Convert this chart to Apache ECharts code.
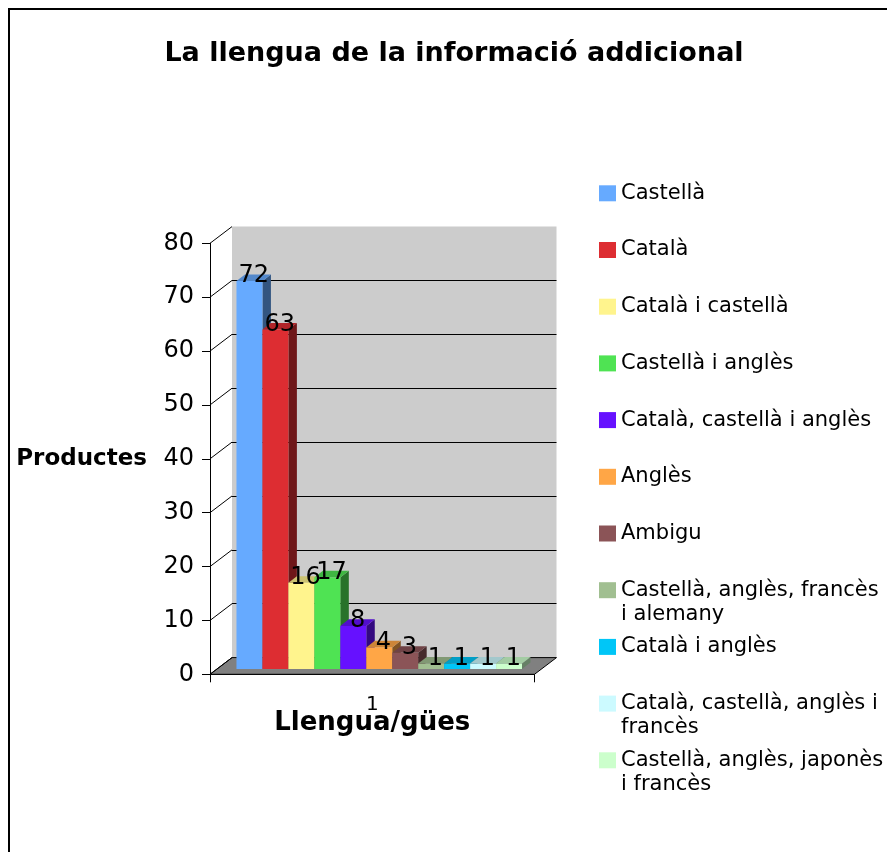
<!DOCTYPE html>
<html>
<head>
<meta charset="utf-8">
<script src="https://cdn.jsdelivr.net/npm/echarts@6/dist/echarts.min.js"></script>
<style>html,body{margin:0;padding:0;background:#fff;}#c{width:887px;height:852px;}</style>
</head>
<body>
<div id="c"></div>
<script>
// ---- data ----
const titleText = 'La llengua de la informació addicional';
const xAxisName = 'Llengua/gües';
const yAxisName = 'Productes';
const xLabels = ['1'];
const categories = [
  'Castellà', 'Català', 'Català i castellà', 'Castellà i anglès',
  'Català, castellà i anglès', 'Anglès', 'Ambigu',
  'Castellà, anglès, francès i alemany', 'Català i anglès',
  'Català, castellà, anglès i francès', 'Castellà, anglès, japonès i francès'
];
const values = [72, 63, 16, 17, 8, 4, 3, 1, 1, 1, 1];
const colors = ['#66AAFF', '#DD2D32', '#FFF48D', '#4FE353', '#6611FF', '#FFA646',
                '#8B5457', '#A1BF91', '#00C6F7', '#CCFAFF', '#CCFFCC'];
const yTicks = [0, 10, 20, 30, 40, 50, 60, 70, 80];

// ---- layout / style constants ----
const FONT = 'DejaVu Sans';
const WALL_DX = 22, WALL_DY = -16.7;     // depth of the plot box
const BAR_DX = 8.5, BAR_DY = -6.6;        // depth of one bar
const BAR_GAP = 0.12;                      // category gap
const LEG_LEFT = 599, LEG_ICON_W = 17, LEG_TOP = 185.3, LEG_PITCH = 56.7, LEG_LINE = 24, LEG_W = 265;
const TITLE_SIZE = 27, TITLE_CX = 454;

function shade(hex, f) {
  const n = parseInt(hex.slice(1), 16);
  const r = Math.round(((n >> 16) & 255) * f), g = Math.round(((n >> 8) & 255) * f), b = Math.round((n & 255) * f);
  return 'rgb(' + r + ',' + g + ',' + b + ')';
}

const mctx = document.createElement('canvas').getContext('2d');
function wrap(s) {
  mctx.font = '21px "' + FONT + '"';
  const words = s.split(' ');
  const lines = [];
  let cur = '';
  for (const w of words) {
    const t = cur ? cur + ' ' + w : w;
    if (cur && mctx.measureText(t).width > LEG_W) { lines.push(cur); cur = w; }
    else cur = t;
  }
  lines.push(cur);
  return lines;
}
mctx.font = 'bold ' + TITLE_SIZE + 'px "' + FONT + '"';
const titleW = mctx.measureText(titleText).width;

const chart = echarts.init(document.getElementById('c'), null, {renderer: 'canvas'});

const front = {left: 210, top: 243.3, width: 324.5, height: 431};

function floorRender(params, api) {
  const cs = params.coordSys;
  const yb = cs.y + cs.height;
  return {
    type: 'polygon',
    shape: {points: [[cs.x, yb], [cs.x + cs.width, yb], [cs.x + cs.width + WALL_DX, yb + WALL_DY], [cs.x + WALL_DX, yb + WALL_DY]]},
    style: {fill: '#808080', stroke: '#000', lineWidth: 1}
  };
}
function diagRender(params, api) {
  const cs = params.coordSys;
  const p = api.coord([0, api.value(1)]);
  return {
    type: 'line',
    shape: {x1: cs.x, y1: p[1], x2: cs.x + WALL_DX, y2: p[1] + WALL_DY},
    style: {stroke: '#000', lineWidth: 1}
  };
}
function barRender(i) {
  return function (params, api) {
    const v = api.value(1);
    const top = api.coord([api.value(0), v]);
    const base = api.coord([api.value(0), 0]);
    const band = api.size([1, 0])[0];
    const inner = band * (1 - BAR_GAP);
    const w = inner / categories.length;
    const x0 = top[0] - inner / 2 + i * w, x1 = x0 + w;
    const y0 = top[1], y1 = base[1];
    const c = colors[i];
    return {
      type: 'group',
      children: [
        {type: 'polygon', shape: {points: [[x1, y1], [x1 + BAR_DX, y1 + BAR_DY], [x1 + BAR_DX, y0 + BAR_DY], [x1, y0]]}, style: {fill: shade(c, 0.5)}},
        {type: 'polygon', shape: {points: [[x0, y0], [x1, y0], [x1 + BAR_DX, y0 + BAR_DY], [x0 + BAR_DX, y0 + BAR_DY]]}, style: {fill: shade(c, 0.8)}},
        {type: 'rect', shape: {x: x0, y: y0, width: w, height: y1 - y0}, style: {fill: c}},
        {type: 'text', z2: 100, style: {text: String(v), x: (x0 + x1) / 2 + BAR_DX / 2, y: y0 - 5, align: 'center', verticalAlign: 'middle', fontSize: 24, fontFamily: FONT, fill: '#000'}}
      ]
    };
  };
}

const series = [
  {type: 'custom', xAxisIndex: 0, yAxisIndex: 0, renderItem: floorRender, data: [[0, 0]], silent: true, z: 1},
  {type: 'custom', xAxisIndex: 0, yAxisIndex: 0, renderItem: diagRender, data: yTicks.map(v => [0, v]), silent: true, z: 1}
];
categories.forEach((name, i) => {
  series.push({
    type: 'custom', name: name, xAxisIndex: 2, yAxisIndex: 2,
    renderItem: barRender(i), itemStyle: {color: colors[i]},
    data: [[0, values[i]]], z: 2
  });
});

const graphics = [{
  type: 'rect', z: -10, silent: true,
  shape: {x: 9, y: 9, width: 2000, height: 2000},
  style: {fill: 'none', stroke: '#000', lineWidth: 2}
}];
const legends = categories.map((name, i) => {
  const lines = wrap(name);
  const iconTop = LEG_TOP + i * LEG_PITCH;
  for (let k = 1; k < lines.length; k++) {
    graphics.push({
      type: 'text', silent: true,
      style: {text: lines[k], x: LEG_LEFT + LEG_ICON_W + 5, y: iconTop + 8 + k * LEG_LINE,
              verticalAlign: 'middle', align: 'left', fontSize: 21, fontFamily: FONT, fill: '#000'}
    });
  }
  return {
    data: [name], orient: 'vertical', left: LEG_LEFT, top: iconTop - 4,
    padding: 0, itemWidth: LEG_ICON_W, itemHeight: 16, icon: 'rect', selectedMode: false,
    formatter: () => lines[0],
    textStyle: {fontSize: 21, fontFamily: FONT, color: '#000', lineHeight: LEG_LINE}
  };
});

chart.setOption({
  animation: false,
  textStyle: {fontFamily: FONT},
  title: {
    text: titleText, left: TITLE_CX - titleW / 2, top: 40, padding: 0,
    textStyle: {fontSize: TITLE_SIZE, fontWeight: 'bold', fontFamily: FONT, color: '#000'}
  },
  legend: legends,
  graphic: graphics,
  grid: [
    {left: front.left, top: front.top, width: front.width, height: front.height, outerBoundsMode: 'none', containLabel: false},
    {left: front.left + WALL_DX, top: front.top + WALL_DY, width: front.width, height: front.height, show: true, backgroundColor: '#cccccc', borderWidth: 0, outerBoundsMode: 'none', containLabel: false},
    {left: front.left + 7, top: front.top - 5.3, width: front.width, height: front.height, outerBoundsMode: 'none', containLabel: false}
  ],
  xAxis: [
    {gridIndex: 0, type: 'category', data: xLabels,
     axisLine: {show: true, lineStyle: {color: '#000', width: 1}},
     axisTick: {show: true, length: 8, lineStyle: {color: '#000'}},
     axisLabel: {fontSize: 20, color: '#000', margin: 20, fontFamily: FONT},
     splitLine: {show: false},
     name: xAxisName, nameLocation: 'middle', nameGap: 36, nameMoveOverlap: false,
     nameTextStyle: {fontSize: 26, fontWeight: 'bold', color: '#000', fontFamily: FONT}},
    {gridIndex: 1, type: 'category', data: xLabels, show: false},
    {gridIndex: 2, type: 'category', data: xLabels, show: false}
  ],
  yAxis: [
    {gridIndex: 0, type: 'value', min: 0, max: 80, interval: 10,
     axisLine: {show: true, lineStyle: {color: '#000', width: 1}},
     axisTick: {show: true, length: 8, lineStyle: {color: '#000'}},
     axisLabel: {fontSize: 24, color: '#000', margin: 16, fontFamily: FONT, padding: [5, 0, 0, 0]},
     splitLine: {show: false},
     name: yAxisName, nameLocation: 'middle', nameRotate: 0, nameGap: 63, nameMoveOverlap: false,
     nameTextStyle: {fontSize: 23, fontWeight: 'bold', color: '#000', fontFamily: FONT}},
    {gridIndex: 1, type: 'value', min: 0, max: 80, interval: 10,
     axisLine: {show: false}, axisTick: {show: false}, axisLabel: {show: false},
     splitLine: {show: true, showMinLine: false, showMaxLine: false, lineStyle: {color: '#000', width: 1}}},
    {gridIndex: 2, type: 'value', min: 0, max: 80, show: false, splitLine: {show: false}}
  ],
  series: series
});
</script>
</body>
</html>
